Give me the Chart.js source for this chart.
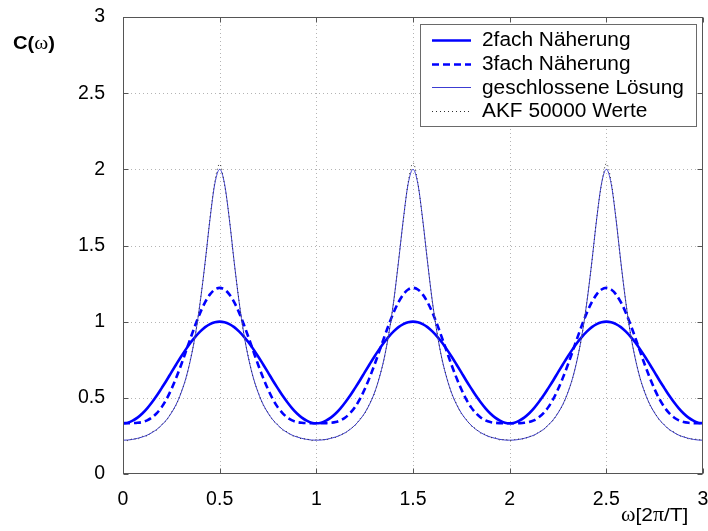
<!DOCTYPE html>
<html>
<head>
<meta charset="utf-8">
<script src="https://cdn.jsdelivr.net/npm/chart.js@4"></script>
<style>
  html, body { margin: 0; padding: 0; background: #fff; }
  canvas { display: block; }
</style>
</head>
<body>
<canvas id="c" width="708" height="531"></canvas>
<script>
// sampling grid of the normalised frequency omega [2pi/T]
const omega = Array.from({ length: 121 }, (_, i) => +(i * 0.025).toFixed(3));

// 2fach Näherung
const zweifach = [
  0.333,0.337,0.350,0.370,0.397,0.431,0.471,0.515,0.564,0.614,0.667,0.719,0.770,0.818,0.863,0.902,0.936,0.964,0.984,0.996,
  1.000,0.996,0.984,0.964,0.936,0.902,0.863,0.818,0.770,0.719,0.667,0.614,0.564,0.515,0.471,0.431,0.397,0.370,0.350,0.337,
  0.333,0.337,0.350,0.370,0.397,0.431,0.471,0.515,0.564,0.614,0.667,0.719,0.770,0.818,0.863,0.902,0.936,0.964,0.984,0.996,
  1.000,0.996,0.984,0.964,0.936,0.902,0.863,0.818,0.770,0.719,0.667,0.614,0.564,0.515,0.471,0.431,0.397,0.370,0.350,0.337,
  0.333,0.337,0.350,0.370,0.397,0.431,0.471,0.515,0.564,0.614,0.667,0.719,0.770,0.818,0.863,0.902,0.936,0.964,0.984,0.996,
  1.000,0.996,0.984,0.964,0.936,0.902,0.863,0.818,0.770,0.719,0.667,0.614,0.564,0.515,0.471,0.431,0.397,0.370,0.350,0.337,
  0.333
];

// 3fach Näherung
const dreifach = [
  0.333,0.333,0.334,0.336,0.341,0.352,0.371,0.400,0.439,0.491,0.556,0.631,0.714,0.803,0.894,0.981,1.061,1.128,1.179,1.211,
  1.222,1.211,1.179,1.128,1.061,0.981,0.894,0.803,0.714,0.631,0.556,0.491,0.439,0.400,0.371,0.352,0.341,0.336,0.334,0.333,
  0.333,0.333,0.334,0.336,0.341,0.352,0.371,0.400,0.439,0.491,0.556,0.631,0.714,0.803,0.894,0.981,1.061,1.128,1.179,1.211,
  1.222,1.211,1.179,1.128,1.061,0.981,0.894,0.803,0.714,0.631,0.556,0.491,0.439,0.400,0.371,0.352,0.341,0.336,0.334,0.333,
  0.333,0.333,0.334,0.336,0.341,0.352,0.371,0.400,0.439,0.491,0.556,0.631,0.714,0.803,0.894,0.981,1.061,1.128,1.179,1.211,
  1.222,1.211,1.179,1.128,1.061,0.981,0.894,0.803,0.714,0.631,0.556,0.491,0.439,0.400,0.371,0.352,0.341,0.336,0.334,0.333,
  0.333
];

// geschlossene Lösung
const geschlossen = [
  0.222,0.223,0.227,0.234,0.243,0.255,0.272,0.293,0.321,0.356,0.400,0.457,0.531,0.628,0.755,0.921,1.134,1.393,1.673,1.906,
  2.000,1.906,1.673,1.393,1.134,0.921,0.755,0.628,0.531,0.457,0.400,0.356,0.321,0.293,0.272,0.255,0.243,0.234,0.227,0.223,
  0.222,0.223,0.227,0.234,0.243,0.255,0.272,0.293,0.321,0.356,0.400,0.457,0.531,0.628,0.755,0.921,1.134,1.393,1.673,1.906,
  2.000,1.906,1.673,1.393,1.134,0.921,0.755,0.628,0.531,0.457,0.400,0.356,0.321,0.293,0.272,0.255,0.243,0.234,0.227,0.223,
  0.222,0.223,0.227,0.234,0.243,0.255,0.272,0.293,0.321,0.356,0.400,0.457,0.531,0.628,0.755,0.921,1.134,1.393,1.673,1.906,
  2.000,1.906,1.673,1.393,1.134,0.921,0.755,0.628,0.531,0.457,0.400,0.356,0.321,0.293,0.272,0.255,0.243,0.234,0.227,0.223,
  0.222
];

// AKF-Schätzung aus 50000 Werten
const akf = [
  0.226,0.219,0.231,0.230,0.247,0.251,0.276,0.289,0.325,0.351,0.405,0.452,0.537,0.622,0.761,0.915,1.141,1.386,1.681,1.921,
  2.035,1.898,1.680,1.387,1.140,0.915,0.760,0.623,0.536,0.452,0.404,0.352,0.326,0.289,0.276,0.251,0.247,0.230,0.231,0.219,
  0.225,0.227,0.223,0.238,0.240,0.259,0.268,0.297,0.317,0.361,0.396,0.462,0.526,0.633,0.749,0.927,1.128,1.400,1.665,1.915,
  2.042,1.912,1.666,1.399,1.129,0.926,0.750,0.633,0.527,0.461,0.396,0.360,0.317,0.297,0.268,0.259,0.239,0.238,0.223,0.227,
  0.219,0.226,0.230,0.231,0.246,0.252,0.275,0.290,0.324,0.352,0.404,0.453,0.535,0.624,0.760,0.916,1.139,1.388,1.679,1.899,
  2.038,1.920,1.679,1.388,1.139,0.916,0.760,0.624,0.535,0.453,0.404,0.352,0.324,0.290,0.275,0.252,0.246,0.231,0.230,0.226,
  0.221
];

const xTicks = [0, 0.5, 1, 1.5, 2, 2.5, 3];
const yTicks = [0, 0.5, 1, 1.5, 2, 2.5, 3];
const seriesNames = ['2fach Näherung', '3fach Näherung', 'geschlossene Lösung', 'AKF 50000 Werte'];

const SANS = '"Liberation Sans", Arial, sans-serif';
const SERIF = '"Liberation Serif", "Times New Roman", serif';
const FRAME = '#555555';

// wanted plot rectangle inside the canvas
const AREA = { left: 123, top: 17, right: 703, bottom: 474 };

const toPoints = ys => omega.map((w, i) => ({ x: w, y: ys[i] }));

function segment(ctx, x1, y1, x2, y2) {
  ctx.beginPath();
  ctx.moveTo(x1, y1);
  ctx.lineTo(x2, y2);
  ctx.stroke();
}

// draws a run of text pieces, each with its own font, widened by sx
function richText(ctx, x, y, parts, sx) {
  ctx.save();
  ctx.translate(x, y);
  ctx.scale(sx, 1);
  ctx.textBaseline = 'alphabetic';
  ctx.textAlign = 'left';
  let cx = 0;
  parts.forEach(([txt, font]) => {
    ctx.font = font;
    ctx.fillText(txt, cx, 0);
    cx += ctx.measureText(txt).width;
  });
  ctx.restore();
}

const matlabFrame = {
  id: 'matlabFrame',
  beforeDatasetsDraw(chart) {
    const { ctx, chartArea: a, scales: { x, y } } = chart;
    ctx.save();
    ctx.strokeStyle = '#b4b4b4';
    ctx.lineWidth = 1;
    ctx.setLineDash([1, 3]);
    xTicks.slice(1, -1).forEach(v => {
      const px = Math.round(x.getPixelForValue(v)) + 0.5;
      segment(ctx, px, a.top, px, a.bottom);
    });
    yTicks.slice(1, -1).forEach(v => {
      const py = Math.round(y.getPixelForValue(v)) + 0.5;
      segment(ctx, a.left, py, a.right, py);
    });
    ctx.restore();
  },
  afterDatasetsDraw(chart) {
    const { ctx, chartArea: a, scales: { x, y } } = chart;
    ctx.save();
    // axes box
    ctx.strokeStyle = FRAME;
    ctx.lineWidth = 1;
    ctx.setLineDash([]);
    const L = Math.round(a.left) + 0.5, R = Math.round(a.right) - 0.5;
    const T = Math.round(a.top) + 0.5, B = Math.round(a.bottom) - 0.5;
    ctx.strokeRect(L, T, R - L, B - T);
    // inward tick marks on all four sides
    const tl = 5;
    xTicks.forEach(v => {
      const px = Math.round(x.getPixelForValue(v)) + 0.5;
      segment(ctx, px, B, px, B - tl);
      segment(ctx, px, T, px, T + tl);
    });
    yTicks.forEach(v => {
      const py = Math.round(y.getPixelForValue(v)) + 0.5;
      segment(ctx, L, py, L + tl, py);
      segment(ctx, R, py, R - tl, py);
    });

    // legend box
    const lx = 420.5, ly = 24.5, lw = 276, lh = 102;
    ctx.fillStyle = '#ffffff';
    ctx.fillRect(lx, ly, lw, lh);
    ctx.strokeStyle = '#6a6a6a';
    ctx.strokeRect(lx, ly, lw, lh);
    chart.data.datasets.forEach((ds, i) => {
      const cy = 40 + i * 23.6;
      ctx.save();
      ctx.strokeStyle = ds.borderColor;
      ctx.lineWidth = ds.borderWidth;
      ctx.setLineDash(ds.borderDash || []);
      segment(ctx, 432, Math.round(cy) + 0.5, 471, Math.round(cy) + 0.5);
      ctx.restore();
      ctx.save();
      ctx.translate(482, cy + 1);
      ctx.scale(1.07, 1);
      ctx.fillStyle = '#000';
      ctx.font = '19.5px ' + SANS;
      ctx.textBaseline = 'middle';
      ctx.textAlign = 'left';
      ctx.fillText(ds.label, 0, 0);
      ctx.restore();
    });

    // axis labels
    ctx.fillStyle = '#000';
    richText(ctx, 13, 49, [
      ['C(', 'bold 18px ' + SANS],
      ['\u03c9', '19px ' + SERIF],
      [')', 'bold 18px ' + SANS]
    ], 1.12);
    richText(ctx, 621, 521, [
      ['\u03c9', '20px ' + SERIF],
      ['[2', '19px ' + SANS],
      ['\u03c0', '20px ' + SERIF],
      ['/T]', '19px ' + SANS]
    ], 1.1);
    ctx.restore();
  }
};

const tickFont = { family: SANS, size: 19.5 };
const plainLabel = v => String(v);

const chart = new Chart(document.getElementById('c'), {
  type: 'line',
  data: {
    datasets: [
      { label: seriesNames[0], data: toPoints(zweifach), borderColor: '#0000ff', borderWidth: 2.6, borderDash: [], order: 3 },
      { label: seriesNames[1], data: toPoints(dreifach), borderColor: '#0000ff', borderWidth: 2.6, borderDash: [7, 4], order: 2 },
      { label: seriesNames[2], data: toPoints(geschlossen), borderColor: '#3c3cd2', borderWidth: 1, borderDash: [], order: 1 },
      { label: seriesNames[3], data: toPoints(akf), borderColor: '#303030', borderWidth: 1, borderDash: [1, 3], order: 0 }
    ]
  },
  options: {
    responsive: false,
    devicePixelRatio: 1,
    animation: false,
    events: [],
    layout: { padding: { left: 0, top: AREA.top, right: 708 - AREA.right, bottom: 0 } },
    elements: {
      point: { radius: 0 },
      line: { cubicInterpolationMode: 'monotone', fill: false }
    },
    plugins: { legend: { display: false }, tooltip: { enabled: false } },
    scales: {
      x: {
        type: 'linear', min: 0, max: 3,
        afterBuildTicks: s => { s.ticks = xTicks.map(v => ({ value: v })); },
        afterFit: s => { s.height = 531 - AREA.bottom; s.paddingLeft = 0; s.paddingRight = 0; },
        ticks: { font: tickFont, color: '#000', padding: 6, maxRotation: 0, autoSkip: false, callback: plainLabel },
        grid: { display: false },
        border: { display: false }
      },
      y: {
        type: 'linear', min: 0, max: 3,
        afterBuildTicks: s => { s.ticks = yTicks.map(v => ({ value: v })); },
        afterFit: s => { s.width = AREA.left; s.paddingTop = 0; s.paddingBottom = 0; },
        ticks: { font: tickFont, color: '#000', padding: 10, autoSkip: false, callback: plainLabel },
        grid: { display: false },
        border: { display: false }
      }
    }
  },
  plugins: [matlabFrame]
});
</script>
</body>
</html>
